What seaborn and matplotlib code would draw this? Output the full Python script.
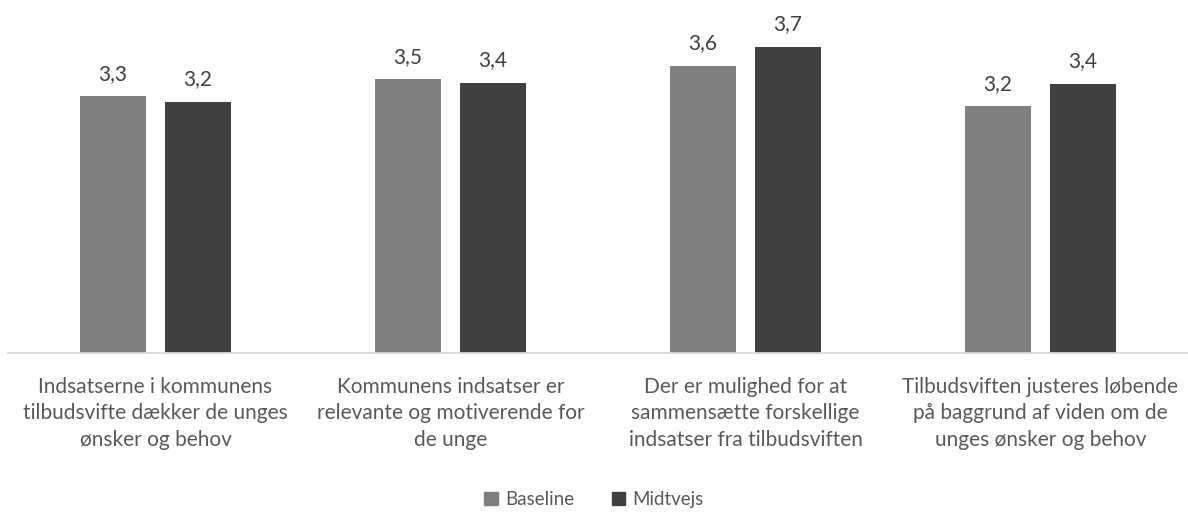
import pandas as pd
import matplotlib
matplotlib.use("Agg")
import matplotlib.pyplot as plt
import seaborn as sns

# data
categories = [
    "Indsatserne i kommunens\ntilbudsvifte dækker de unges\nønsker og behov",
    "Kommunens indsatser er\nrelevante og motiverende for\nde unge",
    "Der er mulighed for at\nsammensætte forskellige\nindsatser fra tilbudsviften",
    "Tilbudsviften justeres løbende\npå baggrund af viden om de\nunges ønsker og behov",
]
baseline = [3.30, 3.45, 3.57, 3.21]
midtvejs = [3.25, 3.42, 3.74, 3.41]
series = ["Baseline", "Midtvejs"]
colors = ["#7F7F7F", "#404040"]

df = pd.DataFrame({
    "kategori": categories * 2,
    "serie": [series[0]] * 4 + [series[1]] * 4,
    "værdi": baseline + midtvejs,
})

sns.set_theme(style="white")
plt.rcParams["font.family"] = ["Lato", "DejaVu Sans"]

fig = plt.figure(figsize=(11.88, 5.13), dpi=100)
ax = fig.add_axes([8 / 1188, 0.3113, 1180 / 1188, 0.6538])

sns.barplot(data=df, x="kategori", y="værdi", hue="serie", palette=colors,
            width=0.576, gap=0.223, ax=ax, legend=False, edgecolor="none")

ax.set_ylim(1, 4)
ax.set_xlim(-0.5, 3.5)
for cont in ax.containers:
    ax.bar_label(cont, labels=[f"{v:.1f}".replace(".", ",") for v in cont.datavalues],
                 padding=9, fontsize=15, color="#404040")

sns.despine(ax=ax, left=True, top=True, right=True)
ax.spines["bottom"].set_color("#D9D9D9")
ax.spines["bottom"].set_linewidth(1.3)
ax.set_yticks([])
ax.set_xlabel("")
ax.set_ylabel("")
ax.tick_params(axis="x", length=0, pad=17, labelsize=15, labelcolor="#595959")
for lbl in ax.get_xticklabels():
    lbl.set_linespacing(1.4)

handles = [plt.Rectangle((0, 0), 1, 1, color=c) for c in colors]
fig.legend(handles, series, loc="lower center", ncol=2, frameon=False,
           bbox_to_anchor=(0.5, -0.024), fontsize=13.5, labelcolor="#595959",
           handlelength=0.7, handleheight=0.7, handletextpad=0.4, columnspacing=2.0)

fig.savefig("out.png", dpi=100)
